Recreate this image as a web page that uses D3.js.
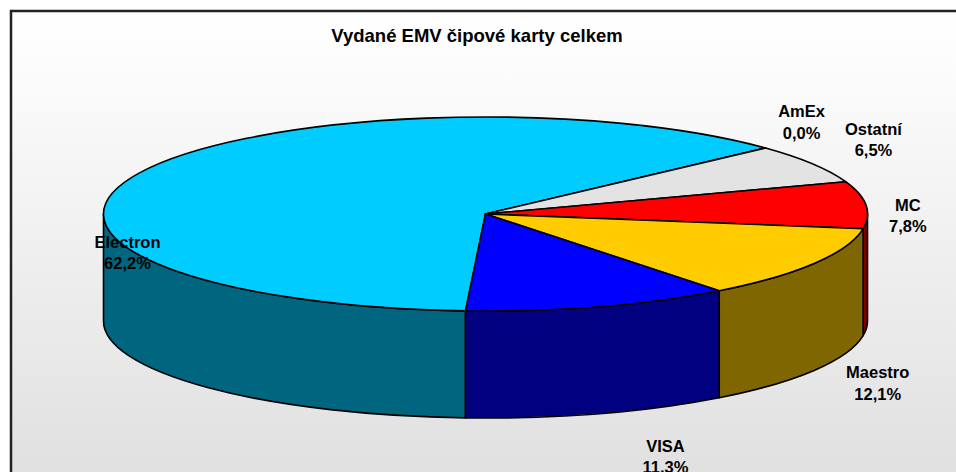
<!DOCTYPE html>
<html>
  <head>
    <meta charset="utf-8">
    <script src="https://d3js.org/d3.v7.min.js"></script>
    <style>
      body { margin:0; background:#fff; }
      svg { display:block; }
      text { font-family:"Liberation Sans", Arial, sans-serif; font-weight:bold; fill:#000; }
    </style>
  </head>
  <body>
    <script>
    // data
    var categories = ["Electron", "AmEx", "Ostatní", "MC", "Maestro", "VISA"];
    var shares = [62.2, 0.0, 6.5, 7.8, 12.1, 11.3];
    var topColors = ["#00ccff", "#9999ff", "#e3e3e3", "#ff0000", "#ffcc00", "#0000ff"];
    var title = "Vydané EMV čipové karty celkem";

    var width = 956, height = 472;

    // ellipse geometry of the 3D pie
    var cx = 485.5, cy = 214, rx = 382, ry = 97, depth = 107;
    var startDeg = 183;

    // label offsets from the rim point at the slice middle (first baseline)
    var labelNudge = {
      "Electron": [-12, 75], "AmEx": [36, -31], "Ostatní": [61, -29],
      "MC": [42, 6], "Maestro": [63, 8], "VISA": [66, 38]
    };

    var data = categories.map(function(c, i) { return {name: c, v: shares[i], color: topColors[i]}; });

    var fmt = d3.formatLocale({decimal: ",", thousands: " ", grouping: [3], currency: ["", ""]}).format(".1f");

    var svg = d3.select("body").append("svg")
        .attr("width", width)
        .attr("height", height);

    var grad = svg.append("defs").append("linearGradient")
        .attr("id", "bg").attr("x1", 0).attr("y1", 0).attr("x2", 0).attr("y2", 1);
    grad.append("stop").attr("offset", "0%").attr("stop-color", "#ffffff");
    grad.append("stop").attr("offset", "8%").attr("stop-color", "#fdfdfd");
    grad.append("stop").attr("offset", "100%").attr("stop-color", "#dfdfdf");

    // chart area with frame (runs past the right and bottom edge)
    svg.append("rect")
        .attr("x", 11).attr("y", 11)
        .attr("width", 970).attr("height", 480)
        .attr("fill", "url(#bg)")
        .attr("stroke", "#222")
        .attr("stroke-width", 2.5);

    svg.append("text")
        .attr("x", 477).attr("y", 42)
        .attr("text-anchor", "middle")
        .style("font-size", "18.5px")
        .text(title);

    var a0 = startDeg * Math.PI / 180;
    var pie = d3.pie().sort(null).value(function(d) { return d.v; })
        .startAngle(a0).endAngle(a0 + 2 * Math.PI);
    var arcs = pie(data);

    // point on the ellipse for a d3 pie angle (0 = 12 o'clock, clockwise)
    function pt(a, dy) {
      return [cx + rx * Math.sin(a), cy - ry * Math.cos(a) + (dy || 0)];
    }

    function sideColor(c) {
      var r = d3.rgb(c);
      return d3.rgb(r.r / 2, r.g / 2, r.b / 2).formatHex();
    }

    function topPath(d) {
      var p0 = pt(d.startAngle), p1 = pt(d.endAngle);
      var large = d.endAngle - d.startAngle > Math.PI ? 1 : 0;
      return "M" + cx + "," + cy + "L" + p0 + "A" + rx + "," + ry + " 0 " + large + " 1 " + p1 + "Z";
    }

    // visible outer wall: the front half of the ellipse
    function wallPaths(d) {
      var out = [];
      [[Math.PI / 2, 3 * Math.PI / 2], [5 * Math.PI / 2, 7 * Math.PI / 2]].forEach(function(r) {
        var a = Math.max(d.startAngle, r[0]), b = Math.min(d.endAngle, r[1]);
        if (b - a > 1e-6) {
          out.push("M" + pt(a) + "A" + rx + "," + ry + " 0 0 1 " + pt(b) +
                   "L" + pt(b, depth) + "A" + rx + "," + ry + " 0 0 0 " + pt(a, depth) + "Z");
        }
      });
      return out;
    }

    var walls = [];
    arcs.forEach(function(d) {
      wallPaths(d).forEach(function(p) { walls.push({d: p, color: sideColor(d.data.color)}); });
    });

    svg.append("g").selectAll("path")
      .data(walls)
      .enter().append("path")
      .attr("d", function(w) { return w.d; })
      .attr("fill", function(w) { return w.color; })
      .attr("stroke", "#000")
      .attr("stroke-width", 1.6)
      .attr("stroke-linejoin", "round");

    svg.append("g").selectAll("path")
      .data(arcs)
      .enter().append("path")
      .attr("d", topPath)
      .attr("fill", function(d) { return d.data.color; })
      .attr("stroke", "#000")
      .attr("stroke-width", 1.6)
      .attr("stroke-linejoin", "round");

    // data labels
    var labels = svg.append("g").selectAll("text")
      .data(arcs)
      .enter().append("text")
      .attr("text-anchor", "middle")
      .style("font-size", "16.5px")
      .attr("transform", function(d) {
        var mid = (d.startAngle + d.endAngle) / 2;
        var front = -Math.cos(mid) > 0;
        var p = pt(mid, front ? depth : 0);
        var n = labelNudge[d.data.name];
        return "translate(" + (p[0] + n[0]) + "," + (p[1] + n[1]) + ")";
      });
    labels.append("tspan").attr("x", 0).attr("y", 0).text(function(d) { return d.data.name; });
    labels.append("tspan").attr("x", 0).attr("y", 21.5).text(function(d) { return fmt(d.data.v) + "%"; });

    </script>
  </body>
</html>
